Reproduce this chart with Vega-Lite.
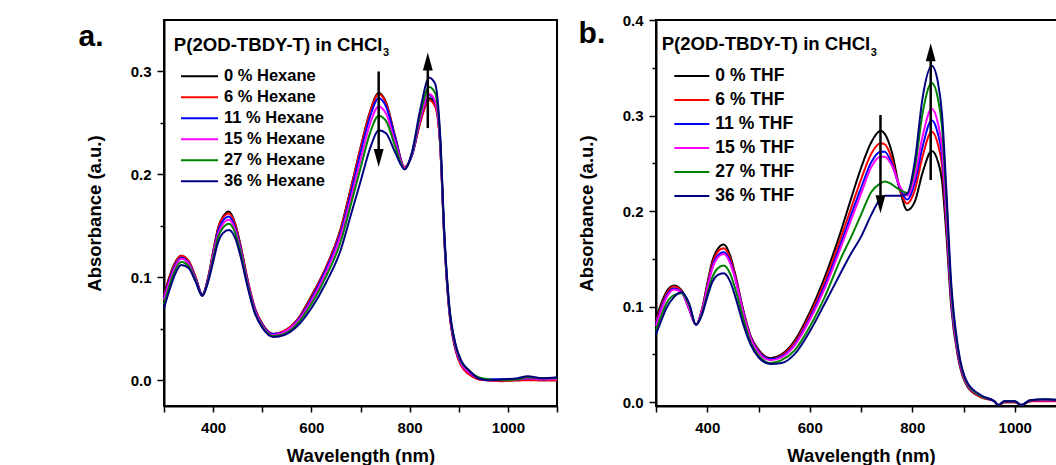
{
"$schema": "https://vega.github.io/schema/vega-lite/v6.json",
"background": "white",
"padding": {"left": 77, "top": 12, "right": 0, "bottom": 0},
"config": {
  "font": "Liberation Sans",
  "view": {"stroke": "black", "strokeWidth": 2},
  "axis": {"labelFont": "Liberation Sans", "labelFontWeight": "bold", "labelFontSize": 15, "labelColor": "black", "titleFont": "Liberation Sans", "titleFontWeight": "bold", "titleFontSize": 18.5, "titleColor": "black", "grid": false, "domainColor": "black", "domainWidth": 2, "tickColor": "black", "tickWidth": 1.5, "labelFlush": false, "labelOverlap": false}
},
"datasets": {
"a": [
{"s":"0 % Hexane","w":300,"v":0.083},{"s":"0 % Hexane","w":310,"v":0.099},{"s":"0 % Hexane","w":320,"v":0.112},{"s":"0 % Hexane","w":335,"v":0.121},{"s":"0 % Hexane","w":350,"v":0.116},{"s":"0 % Hexane","w":365,"v":0.099},{"s":"0 % Hexane","w":378,"v":0.083},{"s":"0 % Hexane","w":390,"v":0.100},{"s":"0 % Hexane","w":400,"v":0.125},{"s":"0 % Hexane","w":410,"v":0.148},{"s":"0 % Hexane","w":420,"v":0.159},{"s":"0 % Hexane","w":432,"v":0.164},{"s":"0 % Hexane","w":445,"v":0.152},{"s":"0 % Hexane","w":455,"v":0.133},{"s":"0 % Hexane","w":470,"v":0.098},{"s":"0 % Hexane","w":485,"v":0.070},{"s":"0 % Hexane","w":500,"v":0.055},{"s":"0 % Hexane","w":523,"v":0.045},{"s":"0 % Hexane","w":545,"v":0.048},{"s":"0 % Hexane","w":570,"v":0.058},{"s":"0 % Hexane","w":600,"v":0.082},{"s":"0 % Hexane","w":630,"v":0.110},{"s":"0 % Hexane","w":660,"v":0.148},{"s":"0 % Hexane","w":680,"v":0.186},{"s":"0 % Hexane","w":700,"v":0.226},{"s":"0 % Hexane","w":720,"v":0.262},{"s":"0 % Hexane","w":737,"v":0.279},{"s":"0 % Hexane","w":752,"v":0.270},{"s":"0 % Hexane","w":770,"v":0.238},{"s":"0 % Hexane","w":790,"v":0.207},{"s":"0 % Hexane","w":805,"v":0.219},{"s":"0 % Hexane","w":822,"v":0.252},{"s":"0 % Hexane","w":840,"v":0.274},{"s":"0 % Hexane","w":852,"v":0.268},{"s":"0 % Hexane","w":862,"v":0.230},{"s":"0 % Hexane","w":871,"v":0.134},{"s":"0 % Hexane","w":880,"v":0.071},{"s":"0 % Hexane","w":893,"v":0.031},{"s":"0 % Hexane","w":905,"v":0.015},{"s":"0 % Hexane","w":920,"v":0.007},{"s":"0 % Hexane","w":940,"v":0.001},{"s":"0 % Hexane","w":960,"v":0.000},{"s":"0 % Hexane","w":990,"v":0.000},{"s":"0 % Hexane","w":1020,"v":0.000},{"s":"0 % Hexane","w":1040,"v":0.001},{"s":"0 % Hexane","w":1070,"v":0.000},{"s":"0 % Hexane","w":1100,"v":0.000},
{"s":"6 % Hexane","w":300,"v":0.082},{"s":"6 % Hexane","w":310,"v":0.098},{"s":"6 % Hexane","w":320,"v":0.111},{"s":"6 % Hexane","w":335,"v":0.121},{"s":"6 % Hexane","w":350,"v":0.116},{"s":"6 % Hexane","w":365,"v":0.099},{"s":"6 % Hexane","w":378,"v":0.083},{"s":"6 % Hexane","w":390,"v":0.100},{"s":"6 % Hexane","w":400,"v":0.124},{"s":"6 % Hexane","w":410,"v":0.147},{"s":"6 % Hexane","w":420,"v":0.158},{"s":"6 % Hexane","w":432,"v":0.162},{"s":"6 % Hexane","w":445,"v":0.151},{"s":"6 % Hexane","w":455,"v":0.132},{"s":"6 % Hexane","w":470,"v":0.098},{"s":"6 % Hexane","w":485,"v":0.070},{"s":"6 % Hexane","w":500,"v":0.055},{"s":"6 % Hexane","w":523,"v":0.045},{"s":"6 % Hexane","w":545,"v":0.048},{"s":"6 % Hexane","w":570,"v":0.058},{"s":"6 % Hexane","w":600,"v":0.081},{"s":"6 % Hexane","w":630,"v":0.110},{"s":"6 % Hexane","w":660,"v":0.147},{"s":"6 % Hexane","w":680,"v":0.185},{"s":"6 % Hexane","w":700,"v":0.225},{"s":"6 % Hexane","w":720,"v":0.261},{"s":"6 % Hexane","w":737,"v":0.278},{"s":"6 % Hexane","w":752,"v":0.269},{"s":"6 % Hexane","w":770,"v":0.237},{"s":"6 % Hexane","w":790,"v":0.207},{"s":"6 % Hexane","w":805,"v":0.219},{"s":"6 % Hexane","w":822,"v":0.251},{"s":"6 % Hexane","w":840,"v":0.272},{"s":"6 % Hexane","w":852,"v":0.266},{"s":"6 % Hexane","w":862,"v":0.229},{"s":"6 % Hexane","w":871,"v":0.133},{"s":"6 % Hexane","w":880,"v":0.070},{"s":"6 % Hexane","w":893,"v":0.030},{"s":"6 % Hexane","w":905,"v":0.014},{"s":"6 % Hexane","w":920,"v":0.006},{"s":"6 % Hexane","w":940,"v":0.001},{"s":"6 % Hexane","w":960,"v":0.000},{"s":"6 % Hexane","w":990,"v":-0.001},{"s":"6 % Hexane","w":1020,"v":0.000},{"s":"6 % Hexane","w":1040,"v":0.000},{"s":"6 % Hexane","w":1070,"v":0.000},{"s":"6 % Hexane","w":1100,"v":0.000},
{"s":"11 % Hexane","w":300,"v":0.080},{"s":"11 % Hexane","w":310,"v":0.096},{"s":"11 % Hexane","w":320,"v":0.109},{"s":"11 % Hexane","w":335,"v":0.119},{"s":"11 % Hexane","w":350,"v":0.114},{"s":"11 % Hexane","w":365,"v":0.098},{"s":"11 % Hexane","w":378,"v":0.083},{"s":"11 % Hexane","w":390,"v":0.099},{"s":"11 % Hexane","w":400,"v":0.122},{"s":"11 % Hexane","w":410,"v":0.145},{"s":"11 % Hexane","w":420,"v":0.155},{"s":"11 % Hexane","w":432,"v":0.159},{"s":"11 % Hexane","w":445,"v":0.148},{"s":"11 % Hexane","w":455,"v":0.130},{"s":"11 % Hexane","w":470,"v":0.096},{"s":"11 % Hexane","w":485,"v":0.069},{"s":"11 % Hexane","w":500,"v":0.054},{"s":"11 % Hexane","w":523,"v":0.045},{"s":"11 % Hexane","w":545,"v":0.047},{"s":"11 % Hexane","w":570,"v":0.057},{"s":"11 % Hexane","w":600,"v":0.079},{"s":"11 % Hexane","w":630,"v":0.108},{"s":"11 % Hexane","w":660,"v":0.144},{"s":"11 % Hexane","w":680,"v":0.181},{"s":"11 % Hexane","w":700,"v":0.221},{"s":"11 % Hexane","w":720,"v":0.257},{"s":"11 % Hexane","w":737,"v":0.274},{"s":"11 % Hexane","w":752,"v":0.266},{"s":"11 % Hexane","w":770,"v":0.236},{"s":"11 % Hexane","w":790,"v":0.206},{"s":"11 % Hexane","w":805,"v":0.219},{"s":"11 % Hexane","w":822,"v":0.254},{"s":"11 % Hexane","w":840,"v":0.277},{"s":"11 % Hexane","w":852,"v":0.270},{"s":"11 % Hexane","w":862,"v":0.232},{"s":"11 % Hexane","w":871,"v":0.136},{"s":"11 % Hexane","w":880,"v":0.072},{"s":"11 % Hexane","w":893,"v":0.032},{"s":"11 % Hexane","w":905,"v":0.016},{"s":"11 % Hexane","w":920,"v":0.008},{"s":"11 % Hexane","w":940,"v":0.002},{"s":"11 % Hexane","w":960,"v":0.001},{"s":"11 % Hexane","w":990,"v":0.001},{"s":"11 % Hexane","w":1020,"v":0.001},{"s":"11 % Hexane","w":1040,"v":0.002},{"s":"11 % Hexane","w":1070,"v":0.001},{"s":"11 % Hexane","w":1100,"v":0.002},
{"s":"15 % Hexane","w":300,"v":0.078},{"s":"15 % Hexane","w":310,"v":0.094},{"s":"15 % Hexane","w":320,"v":0.107},{"s":"15 % Hexane","w":335,"v":0.118},{"s":"15 % Hexane","w":350,"v":0.113},{"s":"15 % Hexane","w":365,"v":0.097},{"s":"15 % Hexane","w":378,"v":0.082},{"s":"15 % Hexane","w":390,"v":0.098},{"s":"15 % Hexane","w":400,"v":0.121},{"s":"15 % Hexane","w":410,"v":0.142},{"s":"15 % Hexane","w":420,"v":0.152},{"s":"15 % Hexane","w":432,"v":0.156},{"s":"15 % Hexane","w":445,"v":0.146},{"s":"15 % Hexane","w":455,"v":0.128},{"s":"15 % Hexane","w":470,"v":0.095},{"s":"15 % Hexane","w":485,"v":0.068},{"s":"15 % Hexane","w":500,"v":0.053},{"s":"15 % Hexane","w":523,"v":0.044},{"s":"15 % Hexane","w":545,"v":0.047},{"s":"15 % Hexane","w":570,"v":0.056},{"s":"15 % Hexane","w":600,"v":0.077},{"s":"15 % Hexane","w":630,"v":0.105},{"s":"15 % Hexane","w":660,"v":0.141},{"s":"15 % Hexane","w":680,"v":0.176},{"s":"15 % Hexane","w":700,"v":0.214},{"s":"15 % Hexane","w":720,"v":0.250},{"s":"15 % Hexane","w":737,"v":0.266},{"s":"15 % Hexane","w":752,"v":0.259},{"s":"15 % Hexane","w":770,"v":0.232},{"s":"15 % Hexane","w":790,"v":0.206},{"s":"15 % Hexane","w":805,"v":0.220},{"s":"15 % Hexane","w":822,"v":0.255},{"s":"15 % Hexane","w":840,"v":0.278},{"s":"15 % Hexane","w":852,"v":0.271},{"s":"15 % Hexane","w":862,"v":0.232},{"s":"15 % Hexane","w":871,"v":0.136},{"s":"15 % Hexane","w":880,"v":0.073},{"s":"15 % Hexane","w":893,"v":0.033},{"s":"15 % Hexane","w":905,"v":0.016},{"s":"15 % Hexane","w":920,"v":0.008},{"s":"15 % Hexane","w":940,"v":0.002},{"s":"15 % Hexane","w":960,"v":0.000},{"s":"15 % Hexane","w":990,"v":0.000},{"s":"15 % Hexane","w":1020,"v":0.001},{"s":"15 % Hexane","w":1040,"v":0.002},{"s":"15 % Hexane","w":1070,"v":0.001},{"s":"15 % Hexane","w":1100,"v":0.001},
{"s":"27 % Hexane","w":300,"v":0.074},{"s":"27 % Hexane","w":310,"v":0.090},{"s":"27 % Hexane","w":320,"v":0.104},{"s":"27 % Hexane","w":335,"v":0.115},{"s":"27 % Hexane","w":350,"v":0.111},{"s":"27 % Hexane","w":365,"v":0.096},{"s":"27 % Hexane","w":378,"v":0.082},{"s":"27 % Hexane","w":390,"v":0.097},{"s":"27 % Hexane","w":400,"v":0.118},{"s":"27 % Hexane","w":410,"v":0.139},{"s":"27 % Hexane","w":420,"v":0.148},{"s":"27 % Hexane","w":432,"v":0.152},{"s":"27 % Hexane","w":445,"v":0.143},{"s":"27 % Hexane","w":455,"v":0.126},{"s":"27 % Hexane","w":470,"v":0.093},{"s":"27 % Hexane","w":485,"v":0.066},{"s":"27 % Hexane","w":500,"v":0.052},{"s":"27 % Hexane","w":523,"v":0.043},{"s":"27 % Hexane","w":545,"v":0.045},{"s":"27 % Hexane","w":570,"v":0.054},{"s":"27 % Hexane","w":600,"v":0.074},{"s":"27 % Hexane","w":630,"v":0.101},{"s":"27 % Hexane","w":660,"v":0.135},{"s":"27 % Hexane","w":680,"v":0.170},{"s":"27 % Hexane","w":700,"v":0.206},{"s":"27 % Hexane","w":720,"v":0.241},{"s":"27 % Hexane","w":737,"v":0.257},{"s":"27 % Hexane","w":752,"v":0.252},{"s":"27 % Hexane","w":770,"v":0.228},{"s":"27 % Hexane","w":790,"v":0.205},{"s":"27 % Hexane","w":805,"v":0.221},{"s":"27 % Hexane","w":822,"v":0.259},{"s":"27 % Hexane","w":840,"v":0.285},{"s":"27 % Hexane","w":852,"v":0.279},{"s":"27 % Hexane","w":862,"v":0.236},{"s":"27 % Hexane","w":871,"v":0.138},{"s":"27 % Hexane","w":880,"v":0.075},{"s":"27 % Hexane","w":893,"v":0.035},{"s":"27 % Hexane","w":905,"v":0.018},{"s":"27 % Hexane","w":920,"v":0.010},{"s":"27 % Hexane","w":940,"v":0.003},{"s":"27 % Hexane","w":960,"v":0.001},{"s":"27 % Hexane","w":990,"v":0.000},{"s":"27 % Hexane","w":1020,"v":0.001},{"s":"27 % Hexane","w":1040,"v":0.003},{"s":"27 % Hexane","w":1070,"v":0.002},{"s":"27 % Hexane","w":1100,"v":0.002},
{"s":"36 % Hexane","w":300,"v":0.070},{"s":"36 % Hexane","w":310,"v":0.086},{"s":"36 % Hexane","w":320,"v":0.100},{"s":"36 % Hexane","w":335,"v":0.112},{"s":"36 % Hexane","w":350,"v":0.109},{"s":"36 % Hexane","w":365,"v":0.095},{"s":"36 % Hexane","w":378,"v":0.082},{"s":"36 % Hexane","w":390,"v":0.096},{"s":"36 % Hexane","w":400,"v":0.115},{"s":"36 % Hexane","w":410,"v":0.134},{"s":"36 % Hexane","w":420,"v":0.143},{"s":"36 % Hexane","w":432,"v":0.146},{"s":"36 % Hexane","w":445,"v":0.138},{"s":"36 % Hexane","w":455,"v":0.122},{"s":"36 % Hexane","w":470,"v":0.091},{"s":"36 % Hexane","w":485,"v":0.065},{"s":"36 % Hexane","w":500,"v":0.051},{"s":"36 % Hexane","w":523,"v":0.042},{"s":"36 % Hexane","w":545,"v":0.044},{"s":"36 % Hexane","w":570,"v":0.052},{"s":"36 % Hexane","w":600,"v":0.070},{"s":"36 % Hexane","w":630,"v":0.095},{"s":"36 % Hexane","w":660,"v":0.127},{"s":"36 % Hexane","w":680,"v":0.160},{"s":"36 % Hexane","w":700,"v":0.193},{"s":"36 % Hexane","w":720,"v":0.226},{"s":"36 % Hexane","w":737,"v":0.243},{"s":"36 % Hexane","w":752,"v":0.240},{"s":"36 % Hexane","w":770,"v":0.222},{"s":"36 % Hexane","w":790,"v":0.205},{"s":"36 % Hexane","w":805,"v":0.222},{"s":"36 % Hexane","w":822,"v":0.264},{"s":"36 % Hexane","w":840,"v":0.294},{"s":"36 % Hexane","w":852,"v":0.288},{"s":"36 % Hexane","w":862,"v":0.240},{"s":"36 % Hexane","w":871,"v":0.140},{"s":"36 % Hexane","w":880,"v":0.076},{"s":"36 % Hexane","w":893,"v":0.036},{"s":"36 % Hexane","w":905,"v":0.019},{"s":"36 % Hexane","w":920,"v":0.010},{"s":"36 % Hexane","w":940,"v":0.002},{"s":"36 % Hexane","w":960,"v":0.000},{"s":"36 % Hexane","w":990,"v":0.001},{"s":"36 % Hexane","w":1020,"v":0.002},{"s":"36 % Hexane","w":1040,"v":0.004},{"s":"36 % Hexane","w":1070,"v":0.002},{"s":"36 % Hexane","w":1100,"v":0.003}
],
"b": [
{"s":"0 % THF","w":300,"v":0.087},{"s":"0 % THF","w":310,"v":0.103},{"s":"0 % THF","w":320,"v":0.115},{"s":"0 % THF","w":335,"v":0.122},{"s":"0 % THF","w":350,"v":0.117},{"s":"0 % THF","w":365,"v":0.098},{"s":"0 % THF","w":378,"v":0.081},{"s":"0 % THF","w":390,"v":0.098},{"s":"0 % THF","w":400,"v":0.124},{"s":"0 % THF","w":410,"v":0.148},{"s":"0 % THF","w":420,"v":0.160},{"s":"0 % THF","w":432,"v":0.165},{"s":"0 % THF","w":445,"v":0.153},{"s":"0 % THF","w":455,"v":0.133},{"s":"0 % THF","w":470,"v":0.097},{"s":"0 % THF","w":485,"v":0.069},{"s":"0 % THF","w":500,"v":0.055},{"s":"0 % THF","w":523,"v":0.046},{"s":"0 % THF","w":545,"v":0.050},{"s":"0 % THF","w":570,"v":0.064},{"s":"0 % THF","w":600,"v":0.094},{"s":"0 % THF","w":630,"v":0.132},{"s":"0 % THF","w":662,"v":0.181},{"s":"0 % THF","w":680,"v":0.212},{"s":"0 % THF","w":700,"v":0.245},{"s":"0 % THF","w":720,"v":0.272},{"s":"0 % THF","w":738,"v":0.284},{"s":"0 % THF","w":746,"v":0.281},{"s":"0 % THF","w":760,"v":0.262},{"s":"0 % THF","w":776,"v":0.222},{"s":"0 % THF","w":790,"v":0.201},{"s":"0 % THF","w":805,"v":0.210},{"s":"0 % THF","w":820,"v":0.240},{"s":"0 % THF","w":838,"v":0.263},{"s":"0 % THF","w":850,"v":0.252},{"s":"0 % THF","w":858,"v":0.232},{"s":"0 % THF","w":866,"v":0.180},{"s":"0 % THF","w":876,"v":0.100},{"s":"0 % THF","w":890,"v":0.045},{"s":"0 % THF","w":908,"v":0.016},{"s":"0 % THF","w":935,"v":0.005},{"s":"0 % THF","w":960,"v":0.001},{"s":"0 % THF","w":968,"v":-0.003},{"s":"0 % THF","w":980,"v":0.000},{"s":"0 % THF","w":1000,"v":0.000},{"s":"0 % THF","w":1013,"v":-0.003},{"s":"0 % THF","w":1030,"v":0.001},{"s":"0 % THF","w":1060,"v":0.002},{"s":"0 % THF","w":1100,"v":0.001},
{"s":"6 % THF","w":300,"v":0.084},{"s":"6 % THF","w":310,"v":0.100},{"s":"6 % THF","w":320,"v":0.113},{"s":"6 % THF","w":335,"v":0.121},{"s":"6 % THF","w":350,"v":0.116},{"s":"6 % THF","w":365,"v":0.097},{"s":"6 % THF","w":378,"v":0.081},{"s":"6 % THF","w":390,"v":0.097},{"s":"6 % THF","w":400,"v":0.122},{"s":"6 % THF","w":410,"v":0.145},{"s":"6 % THF","w":420,"v":0.157},{"s":"6 % THF","w":432,"v":0.161},{"s":"6 % THF","w":445,"v":0.150},{"s":"6 % THF","w":455,"v":0.131},{"s":"6 % THF","w":470,"v":0.096},{"s":"6 % THF","w":485,"v":0.068},{"s":"6 % THF","w":500,"v":0.054},{"s":"6 % THF","w":523,"v":0.045},{"s":"6 % THF","w":545,"v":0.049},{"s":"6 % THF","w":570,"v":0.062},{"s":"6 % THF","w":600,"v":0.091},{"s":"6 % THF","w":630,"v":0.127},{"s":"6 % THF","w":662,"v":0.174},{"s":"6 % THF","w":680,"v":0.202},{"s":"6 % THF","w":700,"v":0.233},{"s":"6 % THF","w":720,"v":0.260},{"s":"6 % THF","w":738,"v":0.271},{"s":"6 % THF","w":746,"v":0.270},{"s":"6 % THF","w":760,"v":0.255},{"s":"6 % THF","w":776,"v":0.222},{"s":"6 % THF","w":790,"v":0.208},{"s":"6 % THF","w":805,"v":0.222},{"s":"6 % THF","w":820,"v":0.257},{"s":"6 % THF","w":838,"v":0.283},{"s":"6 % THF","w":850,"v":0.270},{"s":"6 % THF","w":858,"v":0.248},{"s":"6 % THF","w":866,"v":0.190},{"s":"6 % THF","w":876,"v":0.105},{"s":"6 % THF","w":890,"v":0.047},{"s":"6 % THF","w":908,"v":0.017},{"s":"6 % THF","w":935,"v":0.005},{"s":"6 % THF","w":960,"v":0.001},{"s":"6 % THF","w":968,"v":-0.003},{"s":"6 % THF","w":980,"v":0.000},{"s":"6 % THF","w":1000,"v":0.000},{"s":"6 % THF","w":1013,"v":-0.003},{"s":"6 % THF","w":1030,"v":0.001},{"s":"6 % THF","w":1060,"v":0.001},{"s":"6 % THF","w":1100,"v":0.001},
{"s":"11 % THF","w":300,"v":0.082},{"s":"11 % THF","w":310,"v":0.098},{"s":"11 % THF","w":320,"v":0.111},{"s":"11 % THF","w":335,"v":0.119},{"s":"11 % THF","w":350,"v":0.115},{"s":"11 % THF","w":365,"v":0.097},{"s":"11 % THF","w":378,"v":0.081},{"s":"11 % THF","w":390,"v":0.096},{"s":"11 % THF","w":400,"v":0.120},{"s":"11 % THF","w":410,"v":0.142},{"s":"11 % THF","w":420,"v":0.153},{"s":"11 % THF","w":432,"v":0.157},{"s":"11 % THF","w":445,"v":0.147},{"s":"11 % THF","w":455,"v":0.129},{"s":"11 % THF","w":470,"v":0.095},{"s":"11 % THF","w":485,"v":0.067},{"s":"11 % THF","w":500,"v":0.053},{"s":"11 % THF","w":523,"v":0.045},{"s":"11 % THF","w":545,"v":0.048},{"s":"11 % THF","w":570,"v":0.060},{"s":"11 % THF","w":600,"v":0.088},{"s":"11 % THF","w":630,"v":0.123},{"s":"11 % THF","w":662,"v":0.168},{"s":"11 % THF","w":680,"v":0.195},{"s":"11 % THF","w":700,"v":0.224},{"s":"11 % THF","w":720,"v":0.251},{"s":"11 % THF","w":738,"v":0.262},{"s":"11 % THF","w":746,"v":0.262},{"s":"11 % THF","w":760,"v":0.250},{"s":"11 % THF","w":776,"v":0.224},{"s":"11 % THF","w":790,"v":0.212},{"s":"11 % THF","w":805,"v":0.230},{"s":"11 % THF","w":820,"v":0.267},{"s":"11 % THF","w":838,"v":0.295},{"s":"11 % THF","w":850,"v":0.281},{"s":"11 % THF","w":858,"v":0.258},{"s":"11 % THF","w":866,"v":0.197},{"s":"11 % THF","w":876,"v":0.108},{"s":"11 % THF","w":890,"v":0.049},{"s":"11 % THF","w":908,"v":0.018},{"s":"11 % THF","w":935,"v":0.006},{"s":"11 % THF","w":960,"v":0.001},{"s":"11 % THF","w":968,"v":-0.003},{"s":"11 % THF","w":980,"v":0.001},{"s":"11 % THF","w":1000,"v":0.001},{"s":"11 % THF","w":1013,"v":-0.003},{"s":"11 % THF","w":1030,"v":0.002},{"s":"11 % THF","w":1060,"v":0.002},{"s":"11 % THF","w":1100,"v":0.002},
{"s":"15 % THF","w":300,"v":0.080},{"s":"15 % THF","w":310,"v":0.096},{"s":"15 % THF","w":320,"v":0.109},{"s":"15 % THF","w":335,"v":0.118},{"s":"15 % THF","w":350,"v":0.115},{"s":"15 % THF","w":365,"v":0.097},{"s":"15 % THF","w":378,"v":0.081},{"s":"15 % THF","w":390,"v":0.096},{"s":"15 % THF","w":400,"v":0.119},{"s":"15 % THF","w":410,"v":0.140},{"s":"15 % THF","w":420,"v":0.151},{"s":"15 % THF","w":432,"v":0.155},{"s":"15 % THF","w":445,"v":0.145},{"s":"15 % THF","w":455,"v":0.128},{"s":"15 % THF","w":470,"v":0.094},{"s":"15 % THF","w":485,"v":0.066},{"s":"15 % THF","w":500,"v":0.052},{"s":"15 % THF","w":523,"v":0.044},{"s":"15 % THF","w":545,"v":0.047},{"s":"15 % THF","w":570,"v":0.059},{"s":"15 % THF","w":600,"v":0.086},{"s":"15 % THF","w":630,"v":0.120},{"s":"15 % THF","w":662,"v":0.164},{"s":"15 % THF","w":680,"v":0.190},{"s":"15 % THF","w":700,"v":0.218},{"s":"15 % THF","w":720,"v":0.246},{"s":"15 % THF","w":738,"v":0.257},{"s":"15 % THF","w":746,"v":0.257},{"s":"15 % THF","w":760,"v":0.248},{"s":"15 % THF","w":776,"v":0.226},{"s":"15 % THF","w":790,"v":0.216},{"s":"15 % THF","w":805,"v":0.236},{"s":"15 % THF","w":820,"v":0.278},{"s":"15 % THF","w":838,"v":0.307},{"s":"15 % THF","w":850,"v":0.292},{"s":"15 % THF","w":858,"v":0.267},{"s":"15 % THF","w":866,"v":0.203},{"s":"15 % THF","w":876,"v":0.111},{"s":"15 % THF","w":890,"v":0.050},{"s":"15 % THF","w":908,"v":0.018},{"s":"15 % THF","w":935,"v":0.006},{"s":"15 % THF","w":960,"v":0.001},{"s":"15 % THF","w":968,"v":-0.003},{"s":"15 % THF","w":980,"v":0.001},{"s":"15 % THF","w":1000,"v":0.001},{"s":"15 % THF","w":1013,"v":-0.003},{"s":"15 % THF","w":1030,"v":0.002},{"s":"15 % THF","w":1060,"v":0.002},{"s":"15 % THF","w":1100,"v":0.001},
{"s":"27 % THF","w":300,"v":0.075},{"s":"27 % THF","w":310,"v":0.090},{"s":"27 % THF","w":320,"v":0.103},{"s":"27 % THF","w":335,"v":0.112},{"s":"27 % THF","w":350,"v":0.114},{"s":"27 % THF","w":365,"v":0.101},{"s":"27 % THF","w":378,"v":0.081},{"s":"27 % THF","w":390,"v":0.093},{"s":"27 % THF","w":400,"v":0.113},{"s":"27 % THF","w":410,"v":0.131},{"s":"27 % THF","w":420,"v":0.140},{"s":"27 % THF","w":432,"v":0.143},{"s":"27 % THF","w":445,"v":0.134},{"s":"27 % THF","w":455,"v":0.118},{"s":"27 % THF","w":470,"v":0.088},{"s":"27 % THF","w":485,"v":0.062},{"s":"27 % THF","w":500,"v":0.049},{"s":"27 % THF","w":523,"v":0.041},{"s":"27 % THF","w":545,"v":0.044},{"s":"27 % THF","w":570,"v":0.054},{"s":"27 % THF","w":600,"v":0.079},{"s":"27 % THF","w":630,"v":0.111},{"s":"27 % THF","w":662,"v":0.152},{"s":"27 % THF","w":680,"v":0.172},{"s":"27 % THF","w":700,"v":0.196},{"s":"27 % THF","w":720,"v":0.220},{"s":"27 % THF","w":738,"v":0.229},{"s":"27 % THF","w":746,"v":0.231},{"s":"27 % THF","w":760,"v":0.228},{"s":"27 % THF","w":776,"v":0.222},{"s":"27 % THF","w":790,"v":0.219},{"s":"27 % THF","w":805,"v":0.245},{"s":"27 % THF","w":820,"v":0.302},{"s":"27 % THF","w":838,"v":0.334},{"s":"27 % THF","w":850,"v":0.318},{"s":"27 % THF","w":858,"v":0.288},{"s":"27 % THF","w":866,"v":0.218},{"s":"27 % THF","w":876,"v":0.118},{"s":"27 % THF","w":890,"v":0.053},{"s":"27 % THF","w":908,"v":0.019},{"s":"27 % THF","w":935,"v":0.006},{"s":"27 % THF","w":960,"v":0.001},{"s":"27 % THF","w":968,"v":-0.003},{"s":"27 % THF","w":980,"v":0.001},{"s":"27 % THF","w":1000,"v":0.001},{"s":"27 % THF","w":1013,"v":-0.003},{"s":"27 % THF","w":1030,"v":0.002},{"s":"27 % THF","w":1060,"v":0.003},{"s":"27 % THF","w":1100,"v":0.002},
{"s":"36 % THF","w":300,"v":0.071},{"s":"36 % THF","w":310,"v":0.085},{"s":"36 % THF","w":320,"v":0.098},{"s":"36 % THF","w":335,"v":0.110},{"s":"36 % THF","w":350,"v":0.115},{"s":"36 % THF","w":365,"v":0.103},{"s":"36 % THF","w":378,"v":0.081},{"s":"36 % THF","w":390,"v":0.092},{"s":"36 % THF","w":400,"v":0.110},{"s":"36 % THF","w":410,"v":0.126},{"s":"36 % THF","w":420,"v":0.133},{"s":"36 % THF","w":432,"v":0.135},{"s":"36 % THF","w":445,"v":0.126},{"s":"36 % THF","w":455,"v":0.110},{"s":"36 % THF","w":470,"v":0.082},{"s":"36 % THF","w":485,"v":0.060},{"s":"36 % THF","w":500,"v":0.047},{"s":"36 % THF","w":523,"v":0.040},{"s":"36 % THF","w":545,"v":0.041},{"s":"36 % THF","w":570,"v":0.050},{"s":"36 % THF","w":600,"v":0.074},{"s":"36 % THF","w":630,"v":0.104},{"s":"36 % THF","w":662,"v":0.137},{"s":"36 % THF","w":680,"v":0.155},{"s":"36 % THF","w":700,"v":0.173},{"s":"36 % THF","w":720,"v":0.196},{"s":"36 % THF","w":738,"v":0.213},{"s":"36 % THF","w":746,"v":0.216},{"s":"36 % THF","w":760,"v":0.216},{"s":"36 % THF","w":776,"v":0.216},{"s":"36 % THF","w":790,"v":0.218},{"s":"36 % THF","w":805,"v":0.252},{"s":"36 % THF","w":820,"v":0.318},{"s":"36 % THF","w":838,"v":0.352},{"s":"36 % THF","w":850,"v":0.335},{"s":"36 % THF","w":858,"v":0.302},{"s":"36 % THF","w":866,"v":0.228},{"s":"36 % THF","w":876,"v":0.125},{"s":"36 % THF","w":890,"v":0.055},{"s":"36 % THF","w":908,"v":0.020},{"s":"36 % THF","w":935,"v":0.007},{"s":"36 % THF","w":960,"v":0.001},{"s":"36 % THF","w":968,"v":-0.003},{"s":"36 % THF","w":980,"v":0.001},{"s":"36 % THF","w":1000,"v":0.001},{"s":"36 % THF","w":1013,"v":-0.003},{"s":"36 % THF","w":1030,"v":0.002},{"s":"36 % THF","w":1060,"v":0.003},{"s":"36 % THF","w":1100,"v":0.002}
],
"arrA": [{"w":737,"y1":0.300,"y2":0.2159,"dir":"down"},{"w":837,"y1":0.245,"y2":0.3098,"dir":"up"}],
"arrB": [{"w":738,"y1":0.3006,"y2":0.2072,"dir":"down"},{"w":836,"y1":0.2325,"y2":0.3662,"dir":"up"}]
},
"bounds": "flush",
"spacing": 99,
"resolve": {"scale": {"color": "independent", "shape": "independent"}, "legend": {"color": "independent"}},
"hconcat": [
{
  "width": 393, "height": 386,
  "layer": [
    {"data": {"name": "a"},
     "mark": {"type": "line", "interpolate": "monotone", "strokeWidth": 2},
     "encoding": {
       "x": {"field": "w", "type": "quantitative", "scale": {"domain": [300, 1100], "nice": false, "zero": false},
             "axis": {"title": "Wavelength (nm)", "values": [300,400,500,600,700,800,900,1000,1100], "labelExpr": "datum.value % 200 == 0 && datum.value >= 400 && datum.value <= 1000 ? format(datum.value, 'd') : ''", "tickSize": 6, "labelPadding": 8, "titlePadding": 11}},
       "y": {"field": "v", "type": "quantitative", "scale": {"domain": [-0.025, 0.35], "nice": false, "zero": false},
             "axis": {"title": "Absorbance (a.u.)", "values": [0,0.05,0.1,0.15,0.2,0.25,0.3], "labelExpr": "abs(datum.value*10 - round(datum.value*10)) < 0.001 ? format(datum.value, '.1f') : ''", "tickSize": {"condition": {"test": "abs(datum.value*10 - round(datum.value*10)) < 0.001", "value": 7}, "value": 4}, "labelPadding": 6, "titlePadding": 26}},
       "color": {"field": "s", "type": "nominal",
                 "scale": {"domain": ["0 % Hexane","6 % Hexane","11 % Hexane","15 % Hexane","27 % Hexane","36 % Hexane"], "range": ["#000000","#ff0000","#0000ff","#ff00ff","#008000","#000080"]},
                 "legend": {"orient": "none", "legendX": 16, "legendY": 45.8, "title": null, "symbolType": "stroke", "symbolSize": 1369, "symbolStrokeWidth": 2, "labelFontSize": 16.5, "labelFontWeight": "bold", "labelFont": "Liberation Sans", "labelColor": "black", "clipHeight": 20.7, "rowPadding": 0, "padding": 0, "labelOffset": 5}}
     }},
    {"data": {"name": "arrA"},
     "mark": {"type": "rule", "strokeWidth": 2.5, "color": "black"},
     "encoding": {"x": {"field": "w", "type": "quantitative"}, "y": {"field": "y1", "type": "quantitative"}, "y2": {"field": "y2"}}},
    {"data": {"name": "arrA"},
     "mark": {"type": "point", "filled": true, "color": "black", "opacity": 1, "size": 324, "strokeWidth": 0},
     "encoding": {"x": {"field": "w", "type": "quantitative"}, "y": {"field": "y2", "type": "quantitative"},
                  "shape": {"field": "dir", "type": "nominal", "scale": {"domain": ["down","up"], "range": ["M-0.55,-1L0.55,-1L0,1Z","M-0.55,1L0.55,1L0,-1Z"]}, "legend": null}}},
    {"data": {"values": [{"w": 320, "v": 0.320, "t": "P(2OD-TBDY-T) in CHCl"}]},
     "mark": {"type": "text", "align": "left", "baseline": "alphabetic", "fontWeight": "bold", "fontSize": 18.6, "font": "Liberation Sans", "color": "black"},
     "encoding": {"x": {"field": "w", "type": "quantitative"}, "y": {"field": "v", "type": "quantitative"}, "text": {"field": "t"}}},
    {"data": {"values": [{"w": 746, "v": 0.3148, "t": "3"}]},
     "mark": {"type": "text", "align": "left", "baseline": "alphabetic", "fontWeight": "bold", "fontSize": 11, "font": "Liberation Sans", "color": "black"},
     "encoding": {"x": {"field": "w", "type": "quantitative"}, "y": {"field": "v", "type": "quantitative"}, "text": {"field": "t"}}},
    {"data": {"values": [{"w": 126, "v": 0.325, "t": "a."}]},
     "mark": {"type": "text", "align": "left", "baseline": "alphabetic", "fontWeight": "bold", "fontSize": 30, "font": "Liberation Sans", "color": "black"},
     "encoding": {"x": {"field": "w", "type": "quantitative"}, "y": {"field": "v", "type": "quantitative"}, "text": {"field": "t"}}}
  ]
},
{
  "width": 410, "height": 386,
  "layer": [
    {"data": {"name": "b"},
     "mark": {"type": "line", "interpolate": "monotone", "strokeWidth": 2},
     "encoding": {
       "x": {"field": "w", "type": "quantitative", "scale": {"domain": [300, 1100], "nice": false, "zero": false},
             "axis": {"title": "Wavelength (nm)", "values": [300,400,500,600,700,800,900,1000,1100], "labelExpr": "datum.value % 200 == 0 && datum.value >= 400 && datum.value <= 1000 ? format(datum.value, 'd') : ''", "tickSize": 6, "labelPadding": 8, "titlePadding": 11}},
       "y": {"field": "v", "type": "quantitative", "scale": {"domain": [-0.004, 0.4], "nice": false, "zero": false},
             "axis": {"title": "Absorbance (a.u.)", "values": [0,0.05,0.1,0.15,0.2,0.25,0.3,0.35,0.4], "labelExpr": "abs(datum.value*10 - round(datum.value*10)) < 0.001 ? format(datum.value, '.1f') : ''", "tickSize": {"condition": {"test": "abs(datum.value*10 - round(datum.value*10)) < 0.001", "value": 7}, "value": 4}, "labelPadding": 6, "titlePadding": 26}},
       "color": {"field": "s", "type": "nominal",
                 "scale": {"domain": ["0 % THF","6 % THF","11 % THF","15 % THF","27 % THF","36 % THF"], "range": ["#000000","#ff0000","#0000ff","#ff00ff","#008000","#000080"]},
                 "legend": {"orient": "none", "legendX": 17.3, "legendY": 44.3, "title": null, "symbolType": "stroke", "symbolSize": 1225, "symbolStrokeWidth": 2, "labelFontSize": 17.5, "labelFontWeight": "bold", "labelFont": "Liberation Sans", "labelColor": "black", "clipHeight": 23.3, "rowPadding": 0, "padding": 0, "labelOffset": 5}}
     }},
    {"data": {"name": "arrB"},
     "mark": {"type": "rule", "strokeWidth": 2.5, "color": "black"},
     "encoding": {"x": {"field": "w", "type": "quantitative"}, "y": {"field": "y1", "type": "quantitative"}, "y2": {"field": "y2"}}},
    {"data": {"name": "arrB"},
     "mark": {"type": "point", "filled": true, "color": "black", "opacity": 1, "size": 324, "strokeWidth": 0},
     "encoding": {"x": {"field": "w", "type": "quantitative"}, "y": {"field": "y2", "type": "quantitative"},
                  "shape": {"field": "dir", "type": "nominal", "scale": {"domain": ["down","up"], "range": ["M-0.55,-1L0.55,-1L0,1Z","M-0.55,1L0.55,1L0,-1Z"]}, "legend": null}}},
    {"data": {"values": [{"w": 311, "v": 0.369, "t": "P(2OD-TBDY-T) in CHCl"}]},
     "mark": {"type": "text", "align": "left", "baseline": "alphabetic", "fontWeight": "bold", "fontSize": 18.6, "font": "Liberation Sans", "color": "black"},
     "encoding": {"x": {"field": "w", "type": "quantitative"}, "y": {"field": "v", "type": "quantitative"}, "text": {"field": "t"}}},
    {"data": {"values": [{"w": 719, "v": 0.3628, "t": "3"}]},
     "mark": {"type": "text", "align": "left", "baseline": "alphabetic", "fontWeight": "bold", "fontSize": 11, "font": "Liberation Sans", "color": "black"},
     "encoding": {"x": {"field": "w", "type": "quantitative"}, "y": {"field": "v", "type": "quantitative"}, "text": {"field": "t"}}},
    {"data": {"values": [{"w": 149, "v": 0.376, "t": "b."}]},
     "mark": {"type": "text", "align": "left", "baseline": "alphabetic", "fontWeight": "bold", "fontSize": 30, "font": "Liberation Sans", "color": "black"},
     "encoding": {"x": {"field": "w", "type": "quantitative"}, "y": {"field": "v", "type": "quantitative"}, "text": {"field": "t"}}}
  ]
}
]
}
